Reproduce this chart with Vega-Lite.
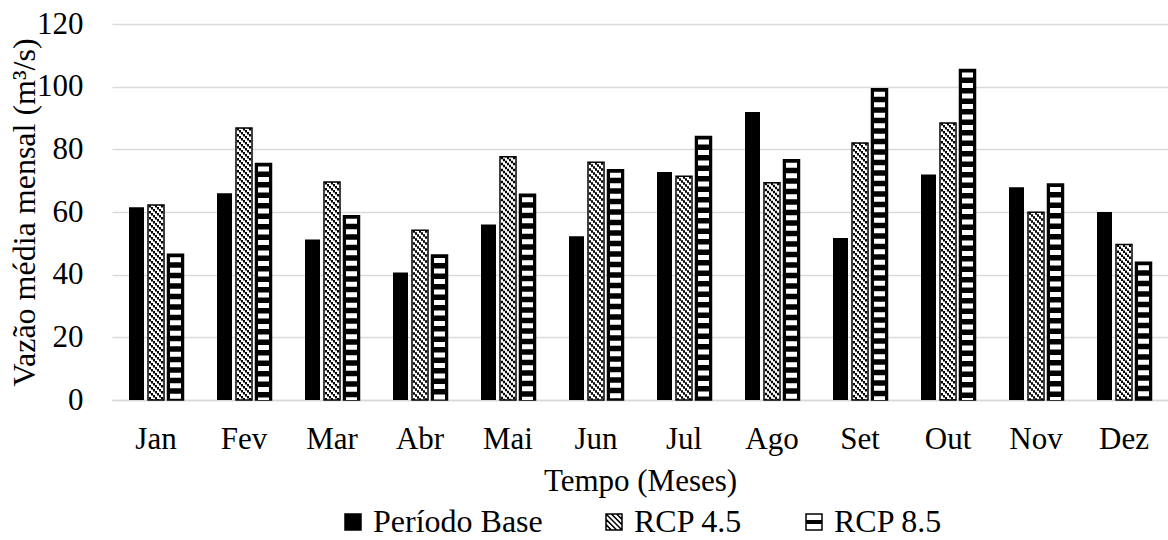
{
  "$schema": "https://vega.github.io/schema/vega-lite/v6.json",
  "width": 1168,
  "height": 540,
  "autosize": {"type": "fit", "contains": "padding"},
  "padding": {"left": 8, "top": 8, "right": 0, "bottom": 2},
  "background": "white",
  "config": {
    "view": {"stroke": null},
    "font": "Liberation Serif",
    "axis": {"labelFont": "Liberation Serif", "titleFont": "Liberation Serif", "labelColor": "black", "titleColor": "black", "titleFontWeight": "normal"},
    "legend": {"labelFont": "Liberation Serif", "labelColor": "black", "labelLimit": 400, "layout": {"bottom": {"anchor": "middle"}}}
  },
  "data": {"values": [
    {"month": "Jan", "series": "Período Base", "value": 61.5},
    {"month": "Jan", "series": "RCP 4.5", "value": 62.2},
    {"month": "Jan", "series": "RCP 8.5", "value": 46.5},
    {"month": "Fev", "series": "Período Base", "value": 66.0},
    {"month": "Fev", "series": "RCP 4.5", "value": 86.8},
    {"month": "Fev", "series": "RCP 8.5", "value": 75.5},
    {"month": "Mar", "series": "Período Base", "value": 51.2},
    {"month": "Mar", "series": "RCP 4.5", "value": 69.6},
    {"month": "Mar", "series": "RCP 8.5", "value": 58.8},
    {"month": "Abr", "series": "Período Base", "value": 40.7},
    {"month": "Abr", "series": "RCP 4.5", "value": 54.2},
    {"month": "Abr", "series": "RCP 8.5", "value": 46.3},
    {"month": "Mai", "series": "Período Base", "value": 56.0},
    {"month": "Mai", "series": "RCP 4.5", "value": 77.6},
    {"month": "Mai", "series": "RCP 8.5", "value": 65.7},
    {"month": "Jun", "series": "Período Base", "value": 52.3},
    {"month": "Jun", "series": "RCP 4.5", "value": 75.9},
    {"month": "Jun", "series": "RCP 8.5", "value": 73.5},
    {"month": "Jul", "series": "Período Base", "value": 72.8},
    {"month": "Jul", "series": "RCP 4.5", "value": 71.4},
    {"month": "Jul", "series": "RCP 8.5", "value": 84.1},
    {"month": "Ago", "series": "Período Base", "value": 91.9},
    {"month": "Ago", "series": "RCP 4.5", "value": 69.3},
    {"month": "Ago", "series": "RCP 8.5", "value": 76.7},
    {"month": "Set", "series": "Período Base", "value": 51.7},
    {"month": "Set", "series": "RCP 4.5", "value": 82.0},
    {"month": "Set", "series": "RCP 8.5", "value": 99.3},
    {"month": "Out", "series": "Período Base", "value": 72.0},
    {"month": "Out", "series": "RCP 4.5", "value": 88.4},
    {"month": "Out", "series": "RCP 8.5", "value": 105.5},
    {"month": "Nov", "series": "Período Base", "value": 67.9},
    {"month": "Nov", "series": "RCP 4.5", "value": 59.9},
    {"month": "Nov", "series": "RCP 8.5", "value": 68.9},
    {"month": "Dez", "series": "Período Base", "value": 60.0},
    {"month": "Dez", "series": "RCP 4.5", "value": 49.6},
    {"month": "Dez", "series": "RCP 8.5", "value": 44.0}
  ]},
  "encoding": {
    "x": {
      "field": "month", "type": "nominal",
      "sort": ["Jan", "Fev", "Mar", "Abr", "Mai", "Jun", "Jul", "Ago", "Set", "Out", "Nov", "Dez"],
      "scale": {"paddingInner": 0, "paddingOuter": 0},
      "axis": {"title": "Tempo (Meses)", "labelAngle": 0, "labelFontSize": 31, "titleFontSize": 31, "ticks": false, "domainColor": "#d9d9d9", "domainWidth": 1.5, "labelPadding": 24, "titlePadding": 12, "labelColor": "black", "titleColor": "black", "titleFont": "Liberation Serif"}
    },
    "y": {
      "field": "value", "type": "quantitative", "stack": null,
      "scale": {"domain": [0, 120], "nice": false},
      "axis": {"title": "Vazão média mensal (m³/s)", "values": [0, 20, 40, 60, 80, 100, 120], "labelFontSize": 31, "titleFontSize": 32, "ticks": false, "domain": false, "gridColor": "#d9d9d9", "gridWidth": 1.5, "labelPadding": 29, "titlePadding": -5, "labelColor": "black", "titleColor": "black", "titleFont": "Liberation Serif"}
    }
  },
  "layer": [
    {
      "transform": [{"filter": "datum.series === 'Período Base'"}],
      "mark": {"type": "bar", "width": 15, "xOffset": -19.5},
      "encoding": {
        "fill": {
          "field": "series", "type": "nominal",
          "scale": {"domain": ["Período Base", "RCP 4.5", "RCP 8.5"], "range": ["black", "white", "white"]},
          "legend": {
            "title": null, "orient": "bottom", "direction": "horizontal", "columns": 3,
            "symbolType": "square", "symbolSize": 256, "labelFontSize": 32, "labelFont": "Liberation Serif", "labelLimit": 400, "labelOffset": 4,
            "columnPadding": 55, "offset": 10,
            "encode": {
              "symbols": {"update": {
                "stroke": {"value": "black"},
                "strokeWidth": {"value": 1.5},
                "opacity": {"value": 1},
                "shape": {"signal": "datum.value === 'RCP 4.5' ? 'M-1,-1H1V1H-1ZM-1,-1L1,1M-1,-0.33L0.33,1M-0.33,-1L1,0.33M-1,0.33L-0.33,1M0.33,-1L1,-0.33' : (datum.value === 'RCP 8.5' ? 'M-1,-1H1V1H-1ZM-1,-0.15H1M-1,0H1M-1,0.15H1' : 'square')"}
              }}
            }
          }
        }
      }
    },
    {
      "transform": [{"filter": "datum.series === 'RCP 4.5'"}],
      "mark": {"type": "bar", "width": 16, "xOffset": 0, "stroke": "black", "strokeWidth": 1.5},
      "encoding": {"fill": {"field": "series", "type": "nominal"}}
    },
    {
      "transform": [{"filter": "datum.series === 'RCP 4.5'"}],
      "mark": {"type": "rule", "xOffset": -6, "color": "black", "strokeWidth": 2, "strokeDash": [2.5, 3.5], "strokeDashOffset": 0},
      "encoding": {"y2": {"datum": 0}}
    },
    {
      "transform": [{"filter": "datum.series === 'RCP 4.5'"}],
      "mark": {"type": "rule", "xOffset": -4, "color": "black", "strokeWidth": 2, "strokeDash": [2.5, 3.5], "strokeDashOffset": 4},
      "encoding": {"y2": {"datum": 0}}
    },
    {
      "transform": [{"filter": "datum.series === 'RCP 4.5'"}],
      "mark": {"type": "rule", "xOffset": -2, "color": "black", "strokeWidth": 2, "strokeDash": [2.5, 3.5], "strokeDashOffset": 2},
      "encoding": {"y2": {"datum": 0}}
    },
    {
      "transform": [{"filter": "datum.series === 'RCP 4.5'"}],
      "mark": {"type": "rule", "xOffset": 0, "color": "black", "strokeWidth": 2, "strokeDash": [2.5, 3.5], "strokeDashOffset": 0},
      "encoding": {"y2": {"datum": 0}}
    },
    {
      "transform": [{"filter": "datum.series === 'RCP 4.5'"}],
      "mark": {"type": "rule", "xOffset": 2, "color": "black", "strokeWidth": 2, "strokeDash": [2.5, 3.5], "strokeDashOffset": 4},
      "encoding": {"y2": {"datum": 0}}
    },
    {
      "transform": [{"filter": "datum.series === 'RCP 4.5'"}],
      "mark": {"type": "rule", "xOffset": 4, "color": "black", "strokeWidth": 2, "strokeDash": [2.5, 3.5], "strokeDashOffset": 2},
      "encoding": {"y2": {"datum": 0}}
    },
    {
      "transform": [{"filter": "datum.series === 'RCP 4.5'"}],
      "mark": {"type": "rule", "xOffset": 6, "color": "black", "strokeWidth": 2, "strokeDash": [2.5, 3.5], "strokeDashOffset": 0},
      "encoding": {"y2": {"datum": 0}}
    },
    {
      "transform": [{"filter": "datum.series === 'RCP 8.5'"}],
      "mark": {"type": "bar", "width": 16, "xOffset": 19.5, "fill": "black", "stroke": "black", "strokeWidth": 1.5},
      "encoding": {}
    },
    {
      "transform": [{"filter": "datum.series === 'RCP 8.5'"}],
      "mark": {"type": "rule", "xOffset": 19.5, "color": "white", "strokeWidth": 11, "strokeDash": [5, 5.5], "strokeDashOffset": -3},
      "encoding": {"y2": {"datum": 0}}
    }
  ]
}
